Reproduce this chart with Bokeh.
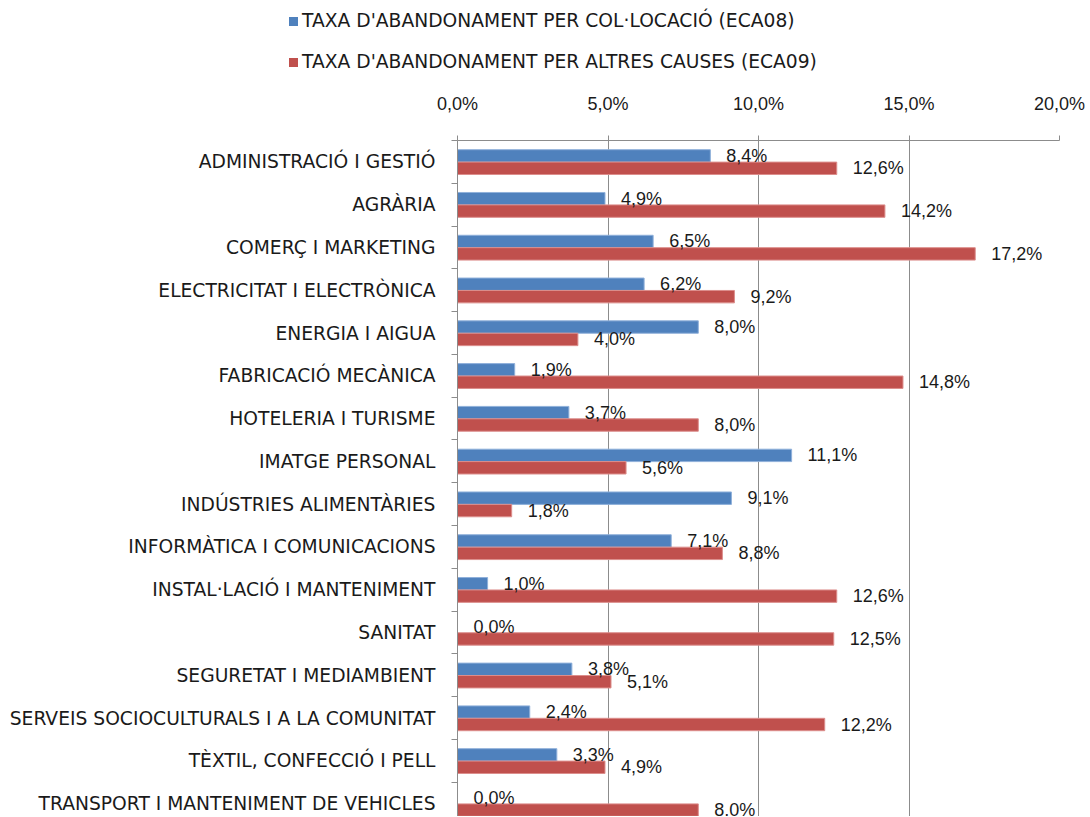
import numpy as np
from bokeh.plotting import figure
from bokeh.layouts import column
from bokeh.models import Range1d, FixedTicker, ColumnDataSource, Div
from bokeh.core.properties import value
from bokeh.embed import file_html
from bokeh.resources import INLINE

categories = [
    "ADMINISTRACIÓ I GESTIÓ",
    "AGRÀRIA",
    "COMERÇ I MARKETING",
    "ELECTRICITAT I ELECTRÒNICA",
    "ENERGIA I AIGUA",
    "FABRICACIÓ MECÀNICA",
    "HOTELERIA I TURISME",
    "IMATGE PERSONAL",
    "INDÚSTRIES ALIMENTÀRIES",
    "INFORMÀTICA I COMUNICACIONS",
    "INSTAL·LACIÓ I MANTENIMENT",
    "SANITAT",
    "SEGURETAT I MEDIAMBIENT",
    "SERVEIS SOCIOCULTURALS I A LA COMUNITAT",
    "TÈXTIL, CONFECCIÓ I PELL",
    "TRANSPORT I MANTENIMENT DE VEHICLES",
]
eca08 = [8.4, 4.9, 6.5, 6.2, 8.0, 1.9, 3.7, 11.1, 9.1, 7.1, 1.0, 0.0, 3.8, 2.4, 3.3, 0.0]
eca09 = [12.6, 14.2, 17.2, 9.2, 4.0, 14.8, 8.0, 5.6, 1.8, 8.8, 12.6, 12.5, 5.1, 12.2, 4.9, 8.0]
series_names = [
    "TAXA D'ABANDONAMENT PER COL·LOCACIÓ (ECA08)",
    "TAXA D'ABANDONAMENT PER ALTRES CAUSES (ECA09)",
]
series_colors = ["#4F81BD", "#C0504D"]
x_ticks = [0, 5, 10, 15, 20]
x_tick_labels = ["0,0%", "5,0%", "10,0%", "15,0%", "20,0%"]

BLUE, RED = series_colors
GRID = "#8c8c8c"
TXT = "#1a1a1a"
CAT_FONT = "DejaVu Sans"
NUM_FONT = "Liberation Sans"

W = 1088
LEG_H = 80
MAIN_H = 816 - LEG_H


def fmt(v):
    return f"{v:.1f}".replace(".", ",") + "%"


n = len(categories)
idx = np.arange(n)
src_b = ColumnDataSource(dict(y=idx + 0.36, v=eca08, lab=[fmt(v) for v in eca08]))
src_r = ColumnDataSource(dict(y=idx + 0.65, v=eca09, lab=[fmt(v) for v in eca09]))

# ---------- legend strip (HTML) ----------
rows = []
for k, (name, col) in enumerate(zip(series_names, series_colors)):
    top = 10 + 41 * k
    rows.append(
        f'<div style="position:absolute;left:289px;top:{top + 7}px;width:9px;height:9px;'
        f'background:{col};"></div>'
        f'<div style="position:absolute;left:302px;top:{top}px;line-height:22px;'
        f'white-space:nowrap;">{name}</div>'
    )
legend_html = (
    f'<div style="position:relative;width:{W}px;height:{LEG_H}px;'
    f"font-family:'{CAT_FONT}';font-size:18.7px;color:{TXT};\">"
    + "".join(rows) + "</div>"
)
leg = Div(text=legend_html, width=W, height=LEG_H, margin=0)

# ---------- main chart ----------
p = figure(width=W, height=MAIN_H, output_backend="svg", toolbar_location=None,
           x_range=Range1d(0, 20), y_range=Range1d(start=15.80, end=0),
           x_axis_location="above", min_border_left=457, min_border_top=140 - LEG_H,
           min_border_right=W - 1059, min_border_bottom=0, margin=0)
p.outline_line_color = None
p.background_fill_color = "white"

bh = 0.29
p.hbar(y="y", right="v", left=0, height=bh, source=src_b,
       fill_color=BLUE, line_color="#8fb0da", line_width=1)
p.hbar(y="y", right="v", left=0, height=bh, source=src_r,
       fill_color=RED, line_color="#dc8e8c", line_width=1)

for src in (src_b, src_r):
    p.text(x="v", y="y", text="lab", source=src, x_offset=16,
           text_align="left", text_baseline="middle",
           text_font=value(NUM_FONT), text_font_size="18px", text_color=TXT)

xa = p.xaxis[0]
xa.ticker = FixedTicker(ticks=x_ticks)
xa.major_label_overrides = {t: l for t, l in zip(x_ticks, x_tick_labels)}
xa.major_label_text_font = NUM_FONT
xa.major_label_text_font_size = "18px"
xa.major_label_text_color = TXT
xa.major_label_standoff = 22
xa.major_tick_out = 5
xa.major_tick_in = 0
xa.minor_tick_line_color = None
xa.axis_line_color = GRID
xa.major_tick_line_color = GRID

ya = p.yaxis[0]
centers = [float(i) + 0.5 for i in range(n)]
ya.ticker = FixedTicker(ticks=centers, minor_ticks=[float(i) for i in range(n + 1)])
ya.major_label_overrides = {c: cat for c, cat in zip(centers, categories)}
ya.major_label_text_font = CAT_FONT
ya.major_label_text_font_size = "18.7px"
ya.major_label_text_color = TXT
ya.major_label_standoff = 16
ya.major_tick_out = 0
ya.major_tick_in = 0
ya.major_tick_line_color = None
ya.minor_tick_out = 6
ya.minor_tick_in = 0
ya.minor_tick_line_color = GRID
ya.axis_line_color = GRID

p.xgrid.ticker = FixedTicker(ticks=x_ticks)
p.xgrid.grid_line_color = GRID
p.xgrid.grid_line_width = 1
p.ygrid.grid_line_color = None

layout = column(leg, p, spacing=0)
open("out.html", "w").write(file_html(layout, INLINE))
